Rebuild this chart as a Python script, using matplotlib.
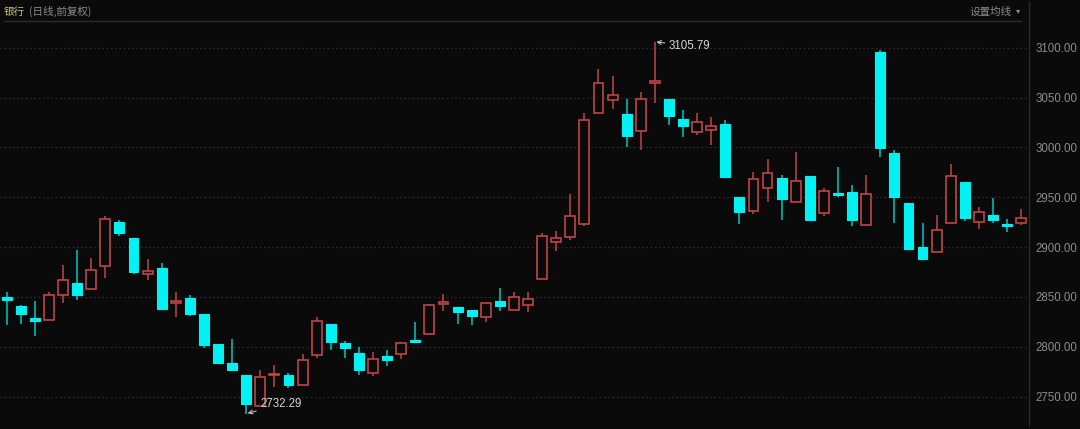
import matplotlib
matplotlib.use("Agg")
import matplotlib.pyplot as plt
from matplotlib.lines import Line2D
import numpy as np

# ---- data (OHLC) ----
opens = [2850, 2841, 2829, 2827, 2852, 2864, 2858, 2881, 2925, 2909,
         2873, 2879, 2844, 2849, 2833, 2803, 2784, 2772, 2741, 2772,
         2772, 2762, 2792, 2823, 2804, 2794, 2774, 2791, 2793, 2807,
         2813, 2843, 2840, 2837, 2830, 2846, 2837, 2842, 2868, 2905,
         2910, 2923, 3035, 3048, 3033, 3016, 3065, 3049, 3028, 3015,
         3017, 3023, 2950, 2936, 2959, 2969, 2945, 2971, 2934, 2954,
         2955, 2922, 3096, 2994, 2944, 2900, 2895, 2924, 2965, 2925,
         2932, 2923, 2924]
highs = [2855, 2842, 2846, 2855, 2882, 2897, 2889, 2931, 2927, 2909,
         2888, 2884, 2855, 2852, 2833, 2803, 2808, 2772, 2777, 2782,
         2774, 2793, 2830, 2823, 2806, 2800, 2795, 2797, 2805, 2825,
         2843, 2853, 2840, 2837, 2844, 2859, 2855, 2855, 2914, 2916,
         2953, 3035, 3079, 3072, 3049, 3056, 3105.79, 3049, 3038, 3035,
         3030, 3027, 2950, 2975, 2988, 2972, 2995, 2971, 2959, 2980,
         2962, 2972, 3098, 2997, 2944, 2924, 2932, 2983, 2965, 2940,
         2949, 2928, 2938]
lows = [2822, 2823, 2811, 2827, 2844, 2847, 2858, 2869, 2911, 2873,
        2867, 2838, 2830, 2831, 2799, 2784, 2777, 2732.29, 2741, 2760,
        2759, 2762, 2789, 2797, 2789, 2772, 2771, 2781, 2788, 2804,
        2813, 2836, 2823, 2822, 2825, 2836, 2837, 2835, 2868, 2896,
        2907, 2921, 3035, 3039, 3000, 2997, 3045, 3022, 3010, 3012,
        3002, 2970, 2923, 2933, 2945, 2927, 2945, 2927, 2931, 2950,
        2921, 2922, 2990, 2924, 2898, 2888, 2895, 2924, 2926, 2918,
        2924, 2915, 2922]
closes = [2847, 2833, 2826, 2852, 2867, 2852, 2877, 2928, 2914, 2875,
          2876, 2838, 2846, 2833, 2802, 2784, 2777, 2743, 2770, 2773,
          2762, 2787, 2826, 2805, 2799, 2777, 2788, 2787, 2804, 2805,
          2842, 2845, 2835, 2831, 2844, 2841, 2850, 2848, 2911, 2909,
          2931, 3027, 3065, 3053, 3011, 3049, 3067, 3031, 3021, 3025,
          3021, 2970, 2935, 2968, 2974, 2948, 2966, 2927, 2956, 2952,
          2927, 2953, 2999, 2950, 2898, 2888, 2917, 2971, 2929, 2935,
          2927, 2921, 2929]
y_ticks = [2750, 2800, 2850, 2900, 2950, 3000, 3050, 3100]
high_label = "3105.79"
low_label = "2732.29"
title_main = "银行"
title_sub = "(日线,前复权)"
ma_label = "设置均线"

# ---- style ----
BG = "#0a0a0a"
UP = "#c24444"
DOWN = "#00f2f2"
GRID = "#2e2e2e"
TXT = "#8c8c8c"

W, H = 1080, 429
fig = plt.figure(figsize=(W / 100, H / 100), dpi=100, facecolor=BG)

ax_left, ax_right = 0 / W, 1029 / W
ax_top, ax_bot = 1 - 21 / H, 0.0
ax = fig.add_axes([ax_left, ax_bot, ax_right - ax_left, ax_top - ax_bot])
ax.set_facecolor(BG)

# pixel -> data calibration
x0, dx = 6.7, 14.09
ax.set_xlim(-x0 / dx, (1029 - x0) / dx)
y_px_3100, px_per_pt = 47.7, 0.997
ax.set_ylim(3100 - (429 - y_px_3100) / px_per_pt,
            3100 + (y_px_3100 - 21) / px_per_pt)

for t in y_ticks:
    ax.axhline(t, color=GRID, lw=0.9, ls=(0, (1.2, 2.2)), zorder=0)

n = len(opens)
xs = np.arange(n)
bw = 0.70
for i in range(n):
    o, h, l, c = opens[i], highs[i], lows[i], closes[i]
    top, bot = max(o, c), min(o, c)
    hgt = max(top - bot, 1.0)
    if c >= o:
        ax.vlines(xs[i], top, h, color=UP, lw=1.1, zorder=2)
        ax.vlines(xs[i], l, bot, color=UP, lw=1.1, zorder=2)
        ax.bar(xs[i], hgt, bottom=bot, width=bw, facecolor=BG,
               edgecolor=UP, linewidth=1.2, zorder=3)
    else:
        ax.vlines(xs[i], l, h, color="#00c8c8", lw=1.1, zorder=2)
        ax.bar(xs[i], hgt, bottom=bot, width=bw, facecolor=DOWN,
               edgecolor=DOWN, linewidth=0.8, zorder=3)

# high / low annotations
ihi = int(np.argmax(highs))
ilo = int(np.argmin(lows))
ax.annotate(high_label, xy=(ihi + 0.1, highs[ihi]),
            xytext=(ihi + 1.0, highs[ihi] - 4),
            color="#d6d6d6", fontsize=8.3, family="Liberation Sans",
            ha="left", va="center",
            arrowprops=dict(arrowstyle="->", color="#bdbdbd", lw=0.8,
                            shrinkA=1, shrinkB=0, mutation_scale=7))
ax.annotate(low_label, xy=(ilo + 0.1, lows[ilo] + 1),
            xytext=(ilo + 1.0, lows[ilo] + 10),
            color="#d6d6d6", fontsize=8.3, family="Liberation Sans",
            ha="left", va="center",
            arrowprops=dict(arrowstyle="->", color="#bdbdbd", lw=0.8,
                            shrinkA=1, shrinkB=0, mutation_scale=7))

# axes / ticks
for s in ax.spines.values():
    s.set_visible(False)
ax.set_xticks([])
ax.yaxis.tick_right()
ax.set_yticks(y_ticks)
ax.set_yticklabels([f"{t:.2f}" for t in y_ticks])
ax.tick_params(axis="y", length=0, pad=4.5, colors=TXT, labelsize=8.3)
for lab in ax.get_yticklabels():
    lab.set_family("Liberation Sans")

# separators
fig.add_artist(Line2D([1029 / W, 1029 / W], [1 - 2 / H, 1 - 425 / H],
                      color="#2a2a2a", lw=1.0))
fig.add_artist(Line2D([4 / W, 1021 / W], [1 - 20.5 / H, 1 - 20.5 / H],
                      color="#2c2c2c", lw=1.0))

# header texts
cjk = ["Noto Sans CJK SC", "DejaVu Sans"]
fig.text(4 / W, 1 - 11.5 / H, title_main, color="#c9bd7c", fontsize=7.6,
         family=cjk, ha="left", va="center")
fig.text(29 / W, 1 - 11.5 / H, title_sub, color="#8a8a8a", fontsize=7.6,
         family=cjk, ha="left", va="center")
fig.text(1012 / W, 1 - 11.5 / H, ma_label, color="#8a8a8a", fontsize=7.6,
         family=cjk, ha="right", va="center")
fig.text(1018 / W, 1 - 11 / H, "▾", color="#8a8a8a", fontsize=6,
         family="DejaVu Sans", ha="center", va="center")

fig.savefig("out.png", dpi=100, facecolor=BG)
